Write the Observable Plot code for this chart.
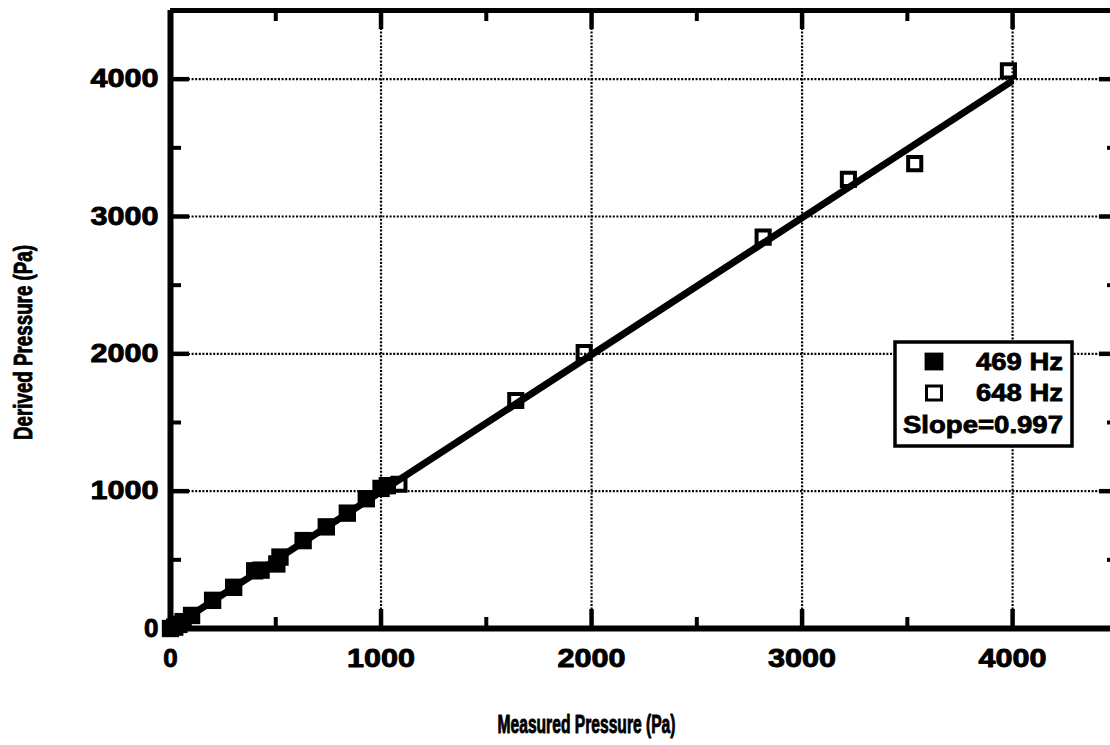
<!DOCTYPE html>
<html><head><meta charset="utf-8">
<script src="https://cdn.jsdelivr.net/npm/d3@7"></script>
<script src="https://cdn.jsdelivr.net/npm/@observablehq/plot@0.6"></script>
<style>body{margin:0;background:#fff} #chart{width:1110px;height:745px}</style>
</head><body><div id="chart"></div>
<script>
// ---- data ----
const x469 = [0, 20, 40, 60, 100, 200, 300, 400, 430, 505, 520, 630, 740, 840, 930, 1000, 1030];
const y469 = [0, 10, 30, 50, 95, 205, 300, 420, 425, 470, 520, 640, 740, 840, 945, 1020, 1040];
const x648 = [1085, 1640, 1965, 2815, 3220, 3535, 3980];
const y648 = [1050, 1660, 2010, 2850, 3270, 3385, 4060];
const fitX = [0, 3990];
const fitY = [0, 3978];
const majorTicks = [0, 1000, 2000, 3000, 4000];
const minorTicks = [500, 1500, 2500, 3500];
const legendLabels = ["469 Hz", "648 Hz"];
const slopeLabel = "Slope=0.997";
const xLabel = "Measured Pressure (Pa)";
const yLabel = "Derived Pressure (Pa)";

// ---- layout ----
const W = 1110, H = 745, mL = 170, mR = 0, mT = 10, mB = 117;
const pW = W - mL - mR, pH = H - mT - mB;
const FONT = "'Liberation Sans', Arial, Helvetica, sans-serif";

const d469 = x469.map((x, i) => ({x, y: y469[i]}));
const d648 = x648.map((x, i) => ({x, y: y648[i]}));
const fit = fitX.map((x, i) => ({x, y: fitY[i]}));
const grid = majorTicks.filter(d => d > 0);

const txt = {fill: "black", stroke: "black", strokeWidth: 0.9, fontWeight: "bold", fontFamily: FONT};

const chart = Plot.plot({
  width: W, height: H,
  marginLeft: mL, marginRight: mR, marginTop: mT, marginBottom: mB,
  style: {fontFamily: FONT, background: "white", color: "black"},
  x: {domain: [0, 4465], axis: null},
  y: {domain: [0, 4500], axis: null},
  marks: [
    // dotted grid
    Plot.ruleX(grid, {x: d => d, stroke: "black", strokeWidth: 2.2, strokeDasharray: "2,1.6"}),
    Plot.ruleY(grid, {y: d => d, stroke: "black", strokeWidth: 2.2, strokeDasharray: "2,1.6"}),
    // inward ticks: bottom / top
    Plot.tickX(majorTicks, {x: d => d, insetTop: pH - 19, stroke: "black", strokeWidth: 4.5}),
    Plot.tickX(majorTicks, {x: d => d, insetBottom: pH - 19, stroke: "black", strokeWidth: 4.5}),
    Plot.tickX(minorTicks, {x: d => d, insetTop: pH - 11, stroke: "black", strokeWidth: 4}),
    Plot.tickX(minorTicks, {x: d => d, insetBottom: pH - 11, stroke: "black", strokeWidth: 4}),
    // inward ticks: left / right
    Plot.tickY(majorTicks, {y: d => d, insetRight: pW - 19, stroke: "black", strokeWidth: 4.5}),
    Plot.tickY(majorTicks, {y: d => d, insetLeft: pW - 11, stroke: "black", strokeWidth: 4.5}),
    Plot.tickY(minorTicks, {y: d => d, insetRight: pW - 11, stroke: "black", strokeWidth: 4}),
    Plot.tickY(minorTicks, {y: d => d, insetLeft: pW - 3, stroke: "black", strokeWidth: 4}),
    // frame
    Plot.ruleX([0], {x: d => d, stroke: "black", strokeWidth: 6}),
    Plot.ruleY([0], {y: d => d, stroke: "black", strokeWidth: 6}),
    Plot.ruleY([4500], {y: d => d, stroke: "black", strokeWidth: 5}),
    // fit line
    Plot.line(fit, {x: "x", y: "y", stroke: "black", strokeWidth: 7}),
    // data
    Plot.dot(d469, {x: "x", y: "y", symbol: "square", r: 9.8, fill: "black", stroke: "none"}),
    Plot.dot(d648, {x: "x", y: "y", symbol: "square", r: 7.4, fill: "none", stroke: "black", strokeWidth: 4}),
    // tick labels
    Plot.text(majorTicks, {x: d => d, y: () => 0, text: d => String(d), dy: 30, fontSize: 26, lineAnchor: "middle", textAnchor: "middle", ...txt}),
    Plot.text(majorTicks, {x: () => 0, y: d => d, text: d => String(d), dx: -12, fontSize: 26, lineAnchor: "middle", textAnchor: "end", ...txt}),
    // axis titles
    Plot.text([xLabel], {frameAnchor: "bottom", text: d => d, dx: 586 - (mL + pW / 2), dy: 104, fontSize: 25, lineAnchor: "bottom", textAnchor: "middle", ...txt}),
    Plot.text([yLabel], {frameAnchor: "left", text: d => d, rotate: -90, dx: -147, dy: 342 - (mT + pH / 2), fontSize: 25, lineAnchor: "middle", textAnchor: "middle", ...txt})
  ]
});

document.getElementById("chart").appendChild(chart);
const svg = d3.select(chart.tagName.toLowerCase() === "svg" ? chart : chart.querySelector("svg"));

// stretch heavy type widths to match reference
svg.selectAll("text").each(function () {
  const t = this.textContent;
  const s = d3.select(this);
  if (t === xLabel) s.attr("textLength", 178).attr("lengthAdjust", "spacingAndGlyphs");
  else if (t === yLabel) s.attr("textLength", 195).attr("lengthAdjust", "spacingAndGlyphs");
  else if (/^\d{4}$/.test(t)) s.attr("textLength", 68).attr("lengthAdjust", "spacingAndGlyphs");
});

// legend box
const lg = svg.append("g").attr("font-family", FONT).attr("font-weight", "bold")
  .attr("fill", "black").attr("stroke", "black").attr("stroke-width", 0.8);
lg.append("rect").attr("x", 895).attr("y", 342).attr("width", 177).attr("height", 104)
  .attr("fill", "white").attr("stroke", "black").attr("stroke-width", 3.5);
lg.append("rect").attr("x", 925).attr("y", 353).attr("width", 18).attr("height", 17).attr("fill", "black");
lg.append("rect").attr("x", 926.5).attr("y", 386).attr("width", 15).attr("height", 14)
  .attr("fill", "none").attr("stroke", "black").attr("stroke-width", 3);
legendLabels.forEach((l, i) => {
  lg.append("text").attr("x", 1063).attr("y", 370 + i * 31).attr("text-anchor", "end")
    .attr("font-size", 24).attr("textLength", 87).attr("lengthAdjust", "spacingAndGlyphs").text(l);
});
lg.append("text").attr("x", 903).attr("y", 433).attr("text-anchor", "start").attr("font-size", 24)
  .attr("textLength", 160).attr("lengthAdjust", "spacingAndGlyphs").text(slopeLabel);
</script>
</body></html>
